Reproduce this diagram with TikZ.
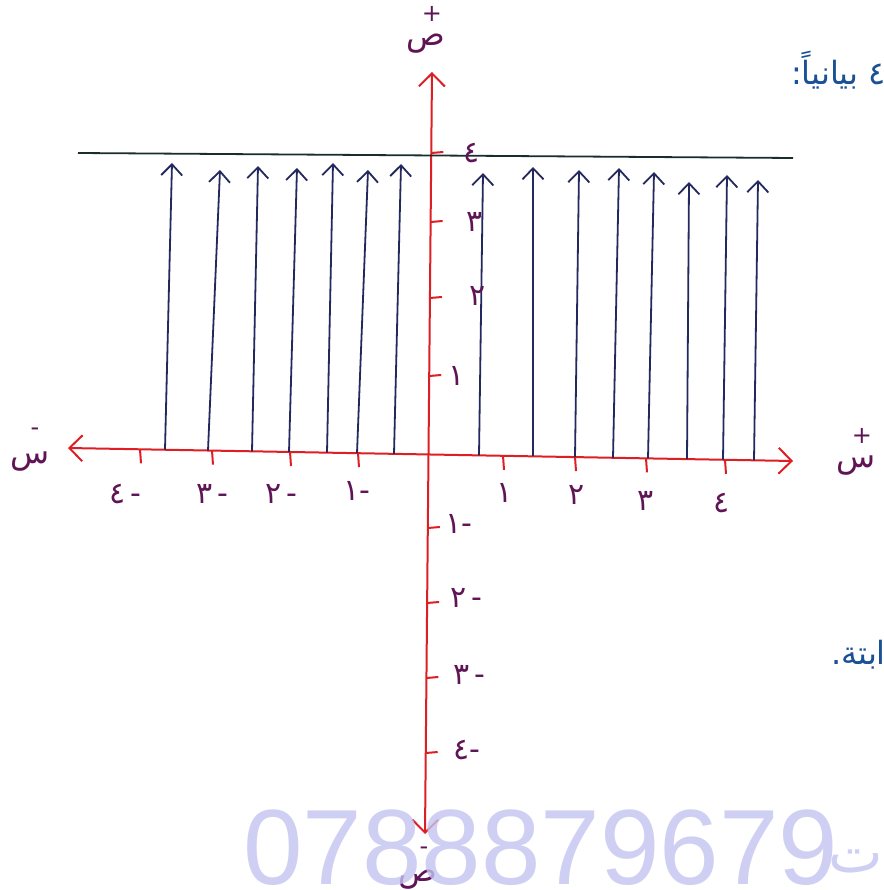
\documentclass[tikz,border=0pt]{standalone}
\usepackage{fontspec}
\setmainfont{DejaVu Sans}
\newfontfamily\arabicfont[Script=Arabic]{DejaVu Sans}
\newfontfamily\digfont{DejaVu Sans}
\newfontfamily\wmfont{Liberation Sans}
\TeXXeTstate=1
\usetikzlibrary{arrows.meta}
\definecolor{axred}{RGB}{222,30,35}
\definecolor{arblue}{RGB}{35,40,95}
\definecolor{lnblack}{RGB}{25,45,45}
\definecolor{lblpur}{RGB}{95,20,85}
\definecolor{txtblue}{RGB}{25,80,150}
\definecolor{wmcol}{RGB}{196,196,242}
\begin{document}
\begin{tikzpicture}[x=1pt,y=-1pt,
  axisline/.style={draw=axred,line width=2pt,line cap=round},
  axtip/.style={{Straight Barb[length=13pt,width=26pt,line width=2pt]}-{Straight Barb[length=13pt,width=26pt,line width=2pt]}},
  vec/.style={draw=arblue,line width=1.8pt,-{Straight Barb[length=11pt,width=21pt,line width=1.8pt]}},
  tick/.style={draw=axred,line width=2pt},
  num/.style={text=lblpur,font=\fontsize{30}{30}\digfont,inner sep=0pt},
  axname/.style={text=lblpur,font=\fontsize{32}{32}\arabicfont,inner sep=0pt},
  sgn/.style={text=lblpur,font=\fontsize{24}{24}\digfont,inner sep=0pt},
  note/.style={text=txtblue,font=\fontsize{32}{32}\arabicfont,inner sep=0pt}]
\useasboundingbox (0,0) rectangle (883,890);
\fill[white] (0,0) rectangle (883,890);
\clip (0,0) rectangle (883,890);

% axes
\coordinate (xl) at (68,448);
\coordinate (xr) at (793,461);
\coordinate (yt) at (432,72);
\coordinate (yb) at (425,834);
\draw[axisline,axtip] (xl) -- (xr);
\draw[axisline,axtip] (yb) -- (yt);

% x ticks
\foreach \i/\x/\y in {a/140/449.3,b/212/450.6,c/290/452,d/358/453.2,e/503/455.8,f/575/457.1,g/646/458.4,h/725/459.8}{
  \coordinate (xt\i) at (\x,\y);
  \coordinate (xu\i) at (\x+1,\y+14);
  \draw[tick] (xt\i) -- (xu\i);
}
% y ticks
\foreach \i/\x/\y in {a/431.3/153,b/430.6/222,c/429.9/298,d/429.2/376,e/427.8/528,f/427.1/603,g/426.4/678,h/425.7/753}{
  \coordinate (yt\i) at (\x,\y);
  \coordinate (yu\i) at (\x+12,\y-1);
  \draw[tick] (yt\i) -- (yu\i);
}

% line y = 4
\coordinate (la) at (78,153);
\coordinate (lb) at (793,158);
\draw[draw=lnblack,line width=1.8pt] (la) -- (lb);

% vertical arrows
\foreach \i/\bx/\by/\tx/\ty in {
  1/165/449.7/172/163, 2/208/450.5/220/170, 3/252/451.3/258/166,
  4/289/452/297/168, 5/327/452.6/333/163, 6/357/453.2/368/170,
  7/394/453.8/401/164, 8/479/455.4/483/173, 9/533/456.3/533/167,
  10/575/457.1/579/170, 11/613/457.8/619/168, 12/648/458.4/654/172,
  13/687/459.1/689/182, 14/723/459.7/727/175, 15/754/460.3/758/180}{
  \coordinate (vb\i) at (\bx,\by);
  \coordinate (vt\i) at (\tx,\ty);
  \draw[vec] (vb\i) -- (vt\i);
}

% x labels
\node[num] (xm4) at (125,494) {٤\,-};
\node[num] (xm3) at (212,494) {٣\,-};
\node[num] (xm2) at (281,494) {٢\,-};
\node[num] (xm1) at (357,491) {١-};
\node[num] (xp1) at (505,493) {١};
\node[num] (xp2) at (577,495) {٢};
\node[num] (xp3) at (646,501) {٣};
\node[num] (xp4) at (722,503) {٤};

% y labels
\node[num] (yp4) at (472,153) {٤};
\node[num] (yp3) at (475,222) {٣};
\node[num] (yp2) at (478,296) {٢};
\node[num] (yp1) at (457,376) {١};
\node[num] (ym1) at (459,524) {١-};
\node[num] (ym2) at (466,598) {٢\,-};
\node[num] (ym3) at (469,675) {٣\,-};
\node[num] (ym4) at (467,750) {٤-};

% axis names
\node[axname] (ypos) at (426,44) {ص};
\node[sgn] (ypossg) at (432,14) {+};
\node[axname] (yneg) at (418,880) {ص};
\node[sgn] (ynegsg) at (424,851) {-};
\node[axname] (xneg) at (30,462) {س};
\node[sgn] (xnegsg) at (35,432) {-};
\node[axname] (xpos) at (856,466) {س};
\node[sgn] (xpossg) at (862,436) {+};

% side notes
\node[note,anchor=east] (n1) at (886,70) {\beginR ٤ بيانياً:\endR};
\node[note,anchor=east] (n2) at (886,655) {\beginR ابتة.\endR};

% watermark
\node[anchor=base west,inner sep=0pt,text=wmcol,text opacity=0.8,font=\fontsize{107}{107}\wmfont] (wm) at (243,884) {0788879679};
\node[anchor=base east,inner sep=0pt,text=wmcol,text opacity=0.8,font=\fontsize{58}{58}\arabicfont] (wmt) at (883,872) {ت};
\end{tikzpicture}
\end{document}
